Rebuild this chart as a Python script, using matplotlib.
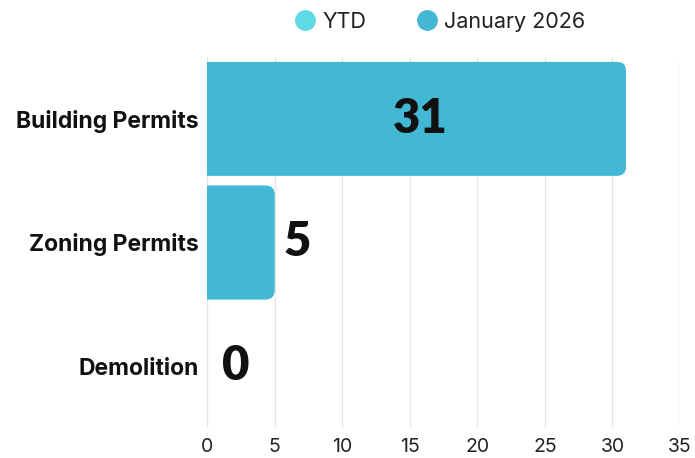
import matplotlib.pyplot as plt
from matplotlib.patches import FancyBboxPatch
from matplotlib.lines import Line2D

# datos
categorias = ['Building Permits', 'Zoning Permits', 'Demolition']
ytd = [31, 5, 0]
enero_2026 = [31, 5, 0]
ticks_x = [0, 5, 10, 15, 20, 25, 30, 35]

col_ytd = '#5fd9e4'
col_ene = '#43b8d5'

fig = plt.figure(figsize=(6.95, 4.58), dpi=100)
ax = fig.add_axes([207/695, 1-428/458, (680-207)/695, (428-57)/458])

pos = list(range(len(categorias)))
barras_ytd = ax.barh(pos, ytd, height=0.92, color=col_ytd, zorder=2)
barras = ax.barh(pos, enero_2026, height=0.92, color=col_ene, zorder=3)

ax.set_xlim(0, 35)
ax.set_ylim(2.5, -0.5)

# esquinas redondeadas (solo lado derecho, la izquierda queda fuera del eje)
px_x = (680-207)/35.0
px_y = (428-57)/3.0
def redondear(grupo, color, z):
    for b in grupo:
        x, y, w, h = b.get_x(), b.get_y(), b.get_width(), b.get_height()
        b.set_visible(False)
        if w <= 0:
            continue
        r = 9/px_x
        p = FancyBboxPatch((x - 2*r, y), w + 2*r, h, boxstyle='round,pad=0,rounding_size=%f' % r,
                           mutation_aspect=px_x/px_y, facecolor=color, edgecolor='none', zorder=z)
        ax.add_patch(p)

redondear(barras_ytd, col_ytd, 2)
redondear(barras, col_ene, 3)

# etiquetas de valores
for i, v in enumerate(enero_2026):
    if v > 20:
        ax.text(v/2 + 4/px_x, i, str(v), ha='center', va='center', fontsize=34, fontweight='heavy',
                family='Lato', color='#111111', zorder=5)
    else:
        ax.text(v + (9 if v > 0 else 15)/px_x, i, str(v), ha='left', va='center', fontsize=34,
                fontweight='heavy', family='Lato', color='#111111', zorder=5)

ax.set_yticks(pos)
ax.set_yticklabels(categorias, fontsize=16.5, fontweight='bold', family='Inter', color='#111111')
ax.set_xticks(ticks_x)
ax.set_xticklabels([str(t) for t in ticks_x], fontsize=14, family='Inter', color='#222222')
ax.tick_params(axis='y', length=0, pad=6)
ax.tick_params(axis='x', length=0, pad=7)
ax.grid(axis='x', color='#e6e6e6', linewidth=1, zorder=0)
for s in ax.spines.values():
    s.set_visible(False)

# leyenda
handles = [Line2D([], [], marker='o', linestyle='none', markersize=14, color=col_ytd),
           Line2D([], [], marker='o', linestyle='none', markersize=14, color=col_ene)]
fig.legend(handles, ['YTD', 'January 2026'], loc='center', bbox_to_anchor=(0.628, 1-22/458),
           ncol=2, frameon=False, prop={'family': 'Inter', 'size': 15.5}, handletextpad=0.0,
           columnspacing=2.0, handlelength=1.6, labelcolor='#222222')

plt.savefig('out.png', dpi=100)
